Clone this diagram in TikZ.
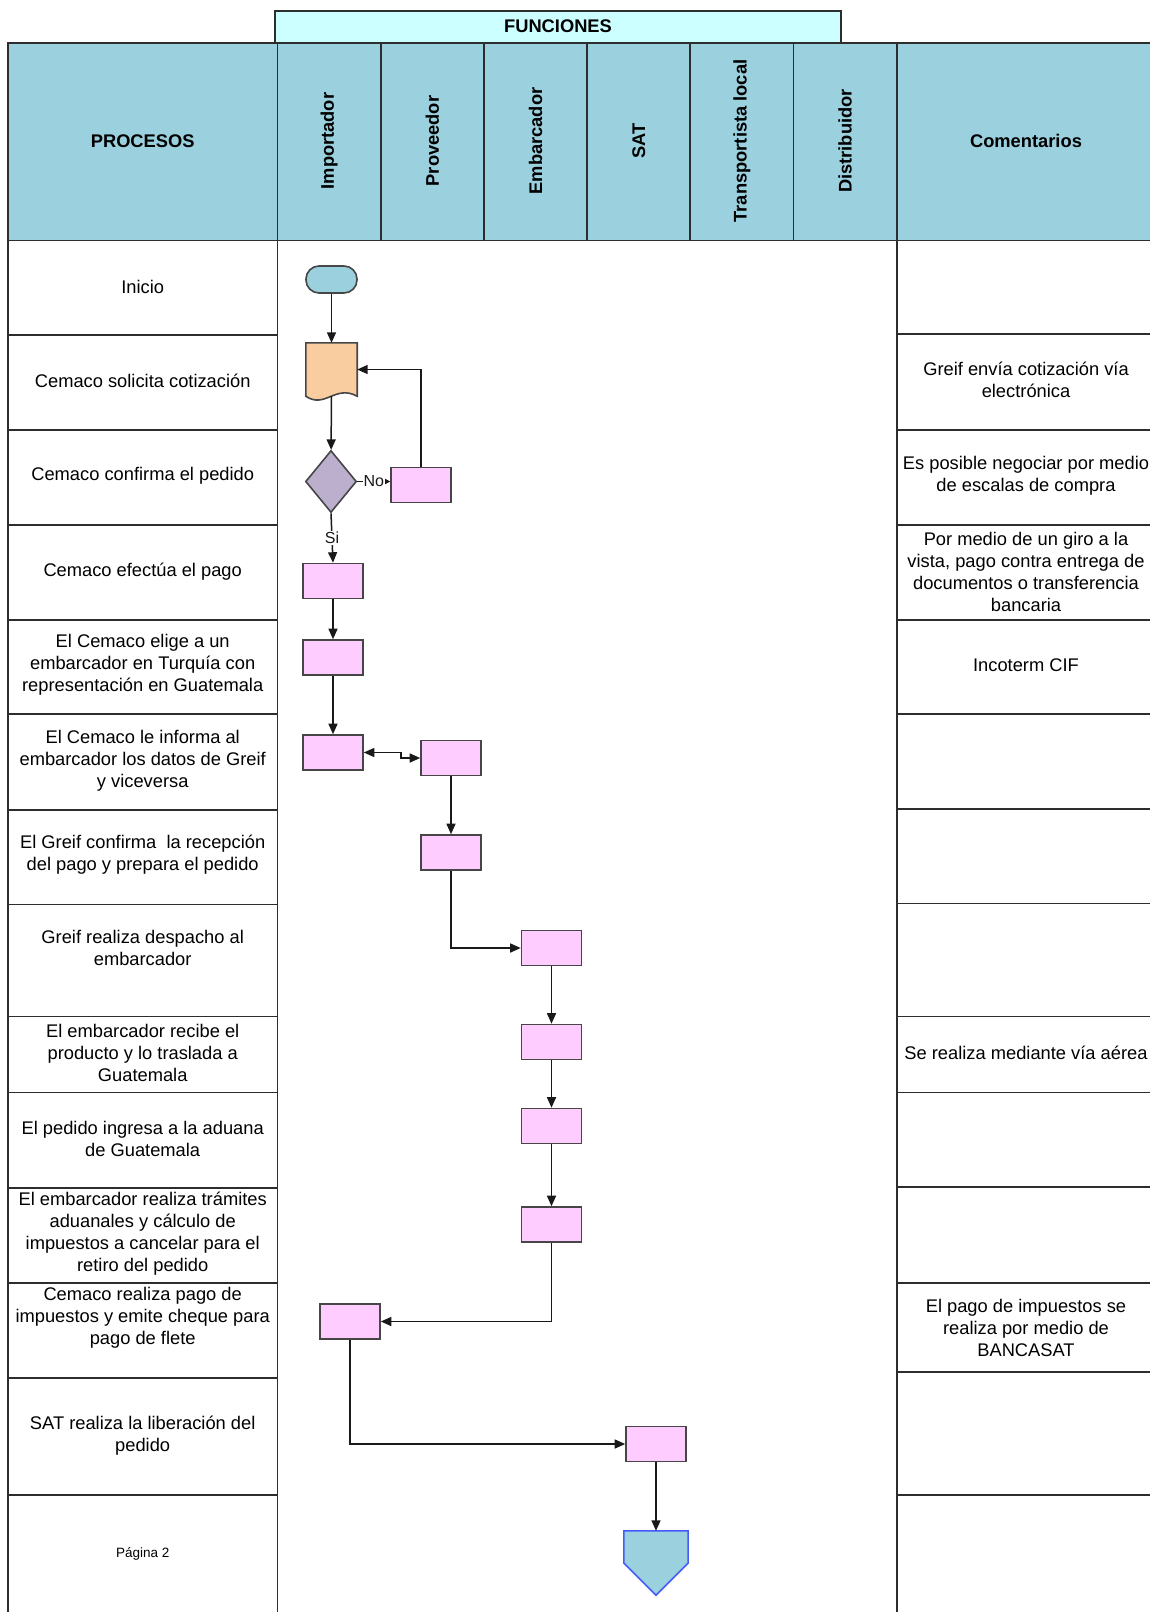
\documentclass[tikz,border=0pt]{standalone}
\usepackage{fontspec}
\setmainfont{Liberation Sans}
\usepackage{tikz}
\usetikzlibrary{arrows.meta,shapes.geometric}

\definecolor{cabecera}{RGB}{155,208,222}
\definecolor{funciones}{RGB}{204,255,255}
\definecolor{rosa}{RGB}{255,204,255}
\definecolor{documento}{RGB}{250,205,160}
\definecolor{decision}{RGB}{188,175,205}
\definecolor{linea}{RGB}{45,45,45}
\definecolor{borde}{RGB}{70,70,70}
\definecolor{flecha}{RGB}{25,25,25}
\definecolor{azul}{RGB}{70,90,250}

\begin{document}
\begin{tikzpicture}[x=1pt, y=-1pt,
		>={Triangle[length=10.5pt,width=9pt]},
		every node/.style={font=\fontsize{18.3}{22}\selectfont, align=center, inner sep=0pt},
		titulo/.style={font=\fontsize{18.3}{22}\selectfont\bfseries},
		celda/.style={draw=linea, line width=1.8pt, fill=cabecera},
		raya/.style={draw=linea, line width=1.8pt},
		figura/.style={draw=borde, line width=1.6pt},
		act/.style={figura, fill=rosa, minimum width=60pt, minimum height=35pt},
		flujo/.style={->, line width=1.5pt, color=flecha},
		etiqueta/.style={fill=white, inner sep=1pt, font=\fontsize{16}{16}\selectfont}]
	\useasboundingbox (0,0) rectangle (1150,1612);
	% cabeceras
	\draw[celda, fill=funciones] (275,11) rectangle (841,43.2);
	\node[titulo] (func) at (558,26) {FUNCIONES};
	\draw[celda] (8,43.2) rectangle (277.5,240.5);
	\node[titulo] (procesos) at (142.7,141) {PROCESOS};
	\foreach \x/\nombre [count=\k] in {277.5/Importador, 380.7/Proveedor, 483.9/Embarcador, 587.1/SAT, 690.3/Transportista local, 793.5/Distribuidor}
	{
		\draw[celda] (\x,43.2) rectangle ++(103.2,197.3);
		\node[titulo, rotate=90] (col\k) at (\x+51.6,141) {\nombre};
	}
	\draw[celda] (896.7,43.2) rectangle (1170,240.5);
	\node[titulo] (comentarios) at (1026,141) {Comentarios};
	% filas
	\draw[raya] (8,240.5) -- (8,1620) (277.5,240.5) -- (277.5,1620) (896.7,240.5) -- (896.7,1620);
	\foreach \y in {335,429.6,525.2,619.7,714.3,809.8,904.4,1016.4,1092.4,1188,1282.6,1378.1,1495.3}
		\draw[raya] (8,\y) -- (277.5,\y);
	\foreach \y in {334,429.6,525.2,619.7,714.3,808.8,903.4,1016.4,1092.4,1187,1282.6,1372,1495.3}
		\draw[raya] (896.7,\y) -- (1170,\y);
	% procesos
	\node (p1) at (142.7,286.7) {Inicio};
	\node (p2) at (142.7,381.3) {Cemaco solicita cotización};
	\node (p3) at (142.7,475.8) {Cemaco confirma el pedido};
	\node (p4) at (142.7,571.4) {Cemaco efectúa el pago};
	\node (p5) at (142.7,665) {El Cemaco elige a un\\embarcador en Turquía con\\representación en Guatemala};
	\node (p6) at (142.7,760.5) {El Cemaco le informa al\\embarcador los datos de Greif\\y viceversa};
	\node (p7) at (142.7,854.5) {El Greif confirma\ \ la recepción\\del pago y prepara el pedido};
	\node (p8) at (142.7,947.5) {Greif realiza despacho al\\embarcador};
	\node (p9) at (142.7,1053.4) {El embarcador recibe el\\producto y lo traslada a\\Guatemala};
	\node (p10) at (142.7,1138.7) {El pedido ingresa a la aduana\\de Guatemala};
	\node (p11) at (142.7,1233.8) {El embarcador realiza trámites\\aduanales y cálculo de\\impuestos a cancelar para el\\retiro del pedido};
	\node (p12) at (142.7,1318) {Cemaco realiza pago de\\impuestos y emite cheque para\\pago de flete};
	\node (p13) at (142.7,1435.7) {SAT realiza la liberación del\\pedido};
	\node[font=\fontsize{13.5}{16}\selectfont] (p14) at (142.7,1554) {Página 2};
	% comentarios
	\node (c1) at (1026,380.3) {Greif envía cotización vía\\electrónica};
	\node (c2) at (1026,475.8) {Es posible negociar por medio\\de escalas de compra};
	\node (c3) at (1026,572.4) {Por medio de un giro a la\\vista, pago contra entrega de\\documentos o transferencia\\bancaria};
	\node (c4) at (1026,665) {Incoterm CIF};
	\node (c5) at (1026,1052.4) {Se realiza mediante vía aérea};
	\node (c6) at (1026,1328.3) {El pago de impuestos se\\realiza por medio de\\BANCASAT};
	% diagrama
	\node[figura, fill=cabecera, rounded corners=13pt, minimum width=51pt, minimum height=27pt] (inicio) at (331.5,279.5) {};
	\node[minimum width=51pt, minimum height=53pt] (doc) at (331.5,369.5) {};
	\draw[figura, fill=documento] (doc.north west) -- (doc.north east) -- (doc.south east) .. controls +(-22,-12) and +(19,13) .. (doc.south west) -- cycle;
	\node[diamond, figura, fill=decision, minimum width=51pt, minimum height=62pt] (dec) at (331,481.5) {};
	\node[act] (b1) at (421,485) {};
	\node[act] (b2) at (333,581) {};
	\node[act] (b3) at (333,657.5) {};
	\node[act] (b4) at (333,752.5) {};
	\node[act] (b5) at (451,758) {};
	\node[act] (b6) at (451,852.5) {};
	\node[act] (b7) at (551.5,948) {};
	\node[act] (b8) at (551.5,1042) {};
	\node[act] (b9) at (551.5,1126) {};
	\node[act] (b10) at (551.5,1224.5) {};
	\node[act] (b11) at (350,1321.5) {};
	\node[act] (b12) at (656,1444) {};
	\node[minimum width=64pt, minimum height=64pt] (fin) at (656,1563) {};
	\draw[draw=azul, line width=1.5pt, fill=cabecera] (fin.north west) -- (fin.north east) -- (fin.east) -- (fin.south) -- (fin.west) -- cycle;
	% conectores
	\path[flujo]
		(inicio) edge (doc)
		(doc) edge (dec)
		(b2) edge (b3)
		(b3) edge (b4)
		(b5) edge (b6)
		(b7) edge (b8)
		(b8) edge (b9)
		(b9) edge (b10)
		(b12) edge (fin)
		;
	\draw[flujo] (b1.north) |- (doc.east);
	\draw[flujo] (b6.south) |- (b7.west);
	\draw[flujo] (b10.south) |- (b11.east);
	\draw[flujo] (b11.south) |- (b12.west);
	\draw[flujo, <->] (b4.east) -- ++(37,0) |- (b5.west);
	\draw[flujo, >={Triangle[length=5pt,width=5pt]}] (dec.east) -- node[etiqueta] (no) {No} (dec.east -| b1.west);
	\draw[flujo] (dec.south) -- node[etiqueta] (si) {Si} (b2.north);
\end{tikzpicture}
\end{document}
